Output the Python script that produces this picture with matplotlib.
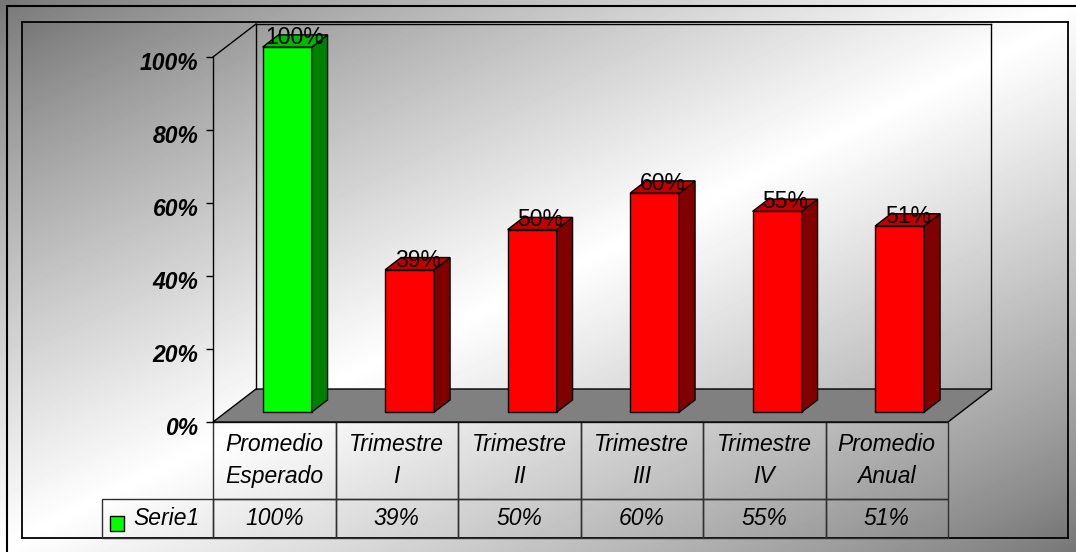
import numpy as np
import matplotlib
matplotlib.use("Agg")
import matplotlib.pyplot as plt
from matplotlib.patches import Polygon, Rectangle
from matplotlib.lines import Line2D
from matplotlib.table import Table
from matplotlib.ticker import PercentFormatter
from matplotlib.transforms import ScaledTranslation

plt.rcParams["font.family"] = ["Liberation Sans", "DejaVu Sans"]

# ---- data ----
CATEGORIES = ["Promedio\nEsperado", "Trimestre\nI", "Trimestre\nII",
              "Trimestre\nIII", "Trimestre\nIV", "Promedio\nAnual"]
VALUES = [1.00, 0.39, 0.50, 0.60, 0.55, 0.51]
VALUE_LABELS = ["100%", "39%", "50%", "60%", "55%", "51%"]
SERIES_NAME = "Serie1"
Y_TICKS = [0.0, 0.2, 0.4, 0.6, 0.8, 1.0]

# ---- styling ----
W, H = 1076, 552
FS = 16.5
FRONT = {"green": "#00ff00", "red": "#ff0000"}
SIDE = {"green": "#008000", "red": "#800000"}
TOP = {"green": "#00b800", "red": "#c00000"}
BAR_COLORS = ["green", "red", "red", "red", "red", "red"]
DX, DY = 43 / 122.5, 33 / 365   # full floor depth, in data units
F0, F1 = 0.30, 0.67             # bar front / back as fraction of depth
BAR_W = 0.4
ROW_LABEL_W = 111 / 735
HEAD_H, ROW_H = 77 / 365, 39 / 365


def gradient(nx, ny, dark=0.46, gamma=0.85):
    # dark corners top-left / bottom-right, white along the other diagonal
    x = np.linspace(0, 1, nx)[None, :]
    y = np.linspace(0, 1, ny)[:, None]
    s = (x + y) / 2
    return dark + (1 - dark) * (1 - np.abs(2 * s - 1)) ** gamma


fig = plt.figure(figsize=(W / 100, H / 100), dpi=100)

# chart area background
bg = fig.add_axes([0, 0, 1, 1])
bg.imshow(gradient(W, H), cmap="gray", vmin=0, vmax=1, aspect="auto",
          extent=[0, W, H, 0])
bg.set_xlim(0, W)
bg.set_ylim(H, 0)
bg.axis("off")
bg.plot([7, W], [6, 6], color="black", lw=1.5)
bg.plot([7, 7], [6, H], color="black", lw=1.5)

# plot area (inner rectangle)
inner = fig.add_axes([22 / W, (H - 538) / H, 1046 / W, 516 / H])
inner.imshow(gradient(1046, 516), cmap="gray", vmin=0, vmax=1, aspect="auto")
inner.set_xticks([])
inner.set_yticks([])
for sp in inner.spines.values():
    sp.set_color("black")
    sp.set_linewidth(1.3)

# main axes = front plane of the 3-D plot
ax = fig.add_axes([213 / W, (H - 422) / H, 735 / W, 365 / H])
ax.patch.set_visible(False)
n = len(VALUES)
ax.set_xlim(0, n)
ax.set_ylim(0, 1)
for s in ("top", "right", "bottom"):
    ax.spines[s].set_visible(False)
ax.spines["left"].set_color("black")
ax.spines["left"].set_linewidth(1)
ax.set_xticks([])
ax.set_yticks(Y_TICKS)
ax.yaxis.set_major_formatter(PercentFormatter(1.0, decimals=0))
ax.tick_params(axis="y", direction="out", length=5, width=1, pad=5.5,
               labelsize=FS, colors="black")
drop = ScaledTranslation(0, -3 / 72, fig.dpi_scale_trans)
for lab in ax.get_yticklabels():
    lab.set_fontweight("bold")
    lab.set_fontstyle("italic")
    lab.set_transform(lab.get_transform() + drop)

# floor
floor = Polygon([(0, 0), (n, 0), (n + DX, DY), (DX, DY)], closed=True,
                facecolor="#808080", edgecolor="black", lw=1, clip_on=False,
                zorder=2)
ax.add_patch(floor)
# wall outlines
wall_kw = dict(color="black", lw=1, clip_on=False, zorder=2)
ax.add_line(Line2D([0, DX], [1, 1 + DY], **wall_kw))
ax.add_line(Line2D([DX, DX], [DY, 1 + DY], **wall_kw))
ax.add_line(Line2D([DX, n + DX], [1 + DY, 1 + DY], **wall_kw))
ax.add_line(Line2D([n + DX, n + DX], [DY, 1 + DY], **wall_kw))

# bars
ax0, ay0 = F0 * DX, F0 * DY
ax1, ay1 = F1 * DX, F1 * DY
for i, (v, c, lab) in enumerate(zip(VALUES, BAR_COLORS, VALUE_LABELS)):
    x0 = i + 0.5 - BAR_W / 2
    x1 = i + 0.5 + BAR_W / 2
    faces = [
        ([(x0 + ax0, ay0), (x1 + ax0, ay0), (x1 + ax0, v + ay0),
          (x0 + ax0, v + ay0)], FRONT[c]),
        ([(x1 + ax0, ay0), (x1 + ax1, ay1), (x1 + ax1, v + ay1),
          (x1 + ax0, v + ay0)], SIDE[c]),
        ([(x0 + ax0, v + ay0), (x1 + ax0, v + ay0), (x1 + ax1, v + ay1),
          (x0 + ax1, v + ay1)], TOP[c]),
    ]
    for pts, fc in faces:
        ax.add_patch(Polygon(pts, closed=True, facecolor=fc, edgecolor="black",
                             lw=1, clip_on=False, zorder=3))
    ax.text(i + 0.5 + (ax0 + ax1) / 2, v + ay1 - 0.007, lab, ha="center",
            va="center", fontsize=FS, color="black", zorder=4, clip_on=False)

# data table under the floor
tbl = Table(ax, bbox=[0, -(HEAD_H + ROW_H), 1, HEAD_H + ROW_H])
cell_kw = dict(facecolor="none", edgecolor="#303030")
for j, (cat, lab) in enumerate(zip(CATEGORIES, VALUE_LABELS)):
    tbl.add_cell(0, j, width=1 / n, height=HEAD_H, text=cat, loc="center",
                 **cell_kw)
    tbl.add_cell(1, j, width=1 / n, height=ROW_H, text=lab, loc="center",
                 **cell_kw)
key_cell = tbl.add_cell(1, -1, width=ROW_LABEL_W, height=ROW_H,
                        text=SERIES_NAME, loc="left", **cell_kw)
key_cell.PAD = 31 / 111
tbl.auto_set_font_size(False)
tbl.set_fontsize(FS)
for cell in tbl.get_celld().values():
    cell.set_linewidth(1)
    t = cell.get_text()
    t.set_fontstyle("italic")
    t.set_linespacing(1.45)
ax.add_table(tbl)
# legend key in the row-label cell
ax.add_patch(Rectangle((-103 / 735, -109 / 365), 14 / 735, 15 / 365,
                       transform=ax.transAxes, facecolor=FRONT["green"],
                       edgecolor="black", lw=1, clip_on=False, zorder=5))

fig.savefig("out.png", dpi=100)
